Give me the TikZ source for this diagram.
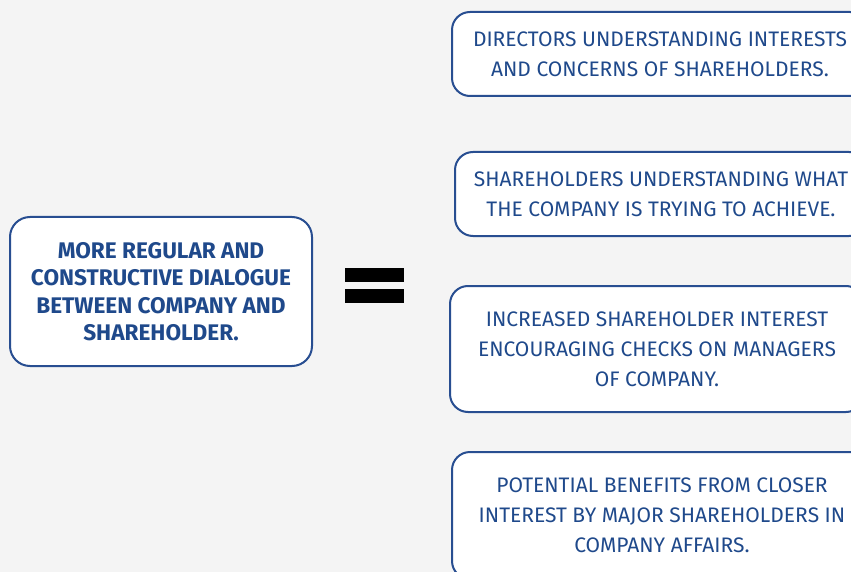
\documentclass[tikz,border=0pt]{standalone}
\usepackage{fontspec}
\setmainfont{Fira Sans}
\usetikzlibrary{positioning}
\definecolor{dlgblue}{RGB}{31,73,139}
\definecolor{dlgline}{RGB}{40,78,145}
\definecolor{dlgback}{RGB}{244,244,244}
\begin{document}
\begin{tikzpicture}[
  x=1pt, y=-1pt,
  box/.style={draw=dlgline, line width=2pt, fill=white, rounded corners=18pt, align=center,
    text=dlgblue, inner sep=0pt, font=\fontsize{21}{30}\selectfont},
  lead/.style={box, rounded corners=20pt, font=\fontsize{22.6}{27.5}\selectfont\bfseries},
  >=stealth
]
\fill[dlgback] (0,0) rectangle (851,572);
\clip (0,0) rectangle (851,572);
\node[lead, minimum width=302pt, minimum height=149pt] (dialogue) at (161,291.5)
  {MORE REGULAR AND\\CONSTRUCTIVE DIALOGUE\\BETWEEN COMPANY AND\\SHAREHOLDER.};
\node[box, minimum width=416pt, minimum height=84pt] (directors) at (660,54)
  {DIRECTORS UNDERSTANDING INTERESTS\\AND CONCERNS OF SHAREHOLDERS.};
\node[box, minimum width=412pt, minimum height=84pt, below=54pt of directors, xshift=1pt] (holders)
  {SHAREHOLDERS UNDERSTANDING WHAT\\THE COMPANY IS TRYING TO ACHIEVE.};
\node[box, minimum width=414pt, minimum height=126pt, below=48pt of holders, xshift=-4pt] (checks)
  {INCREASED SHAREHOLDER INTEREST\\ENCOURAGING CHECKS ON MANAGERS\\OF COMPANY.};
\node[box, minimum width=420pt, minimum height=127pt, below=38pt of checks, xshift=5pt] (benefits)
  {POTENTIAL BENEFITS FROM CLOSER\\INTEREST BY MAJOR SHAREHOLDERS IN\\COMPANY AFFAIRS.};
% equals sign
\fill (345,268) rectangle (404,282);
\fill (345,289) rectangle (404,303);
\end{tikzpicture}
\end{document}
